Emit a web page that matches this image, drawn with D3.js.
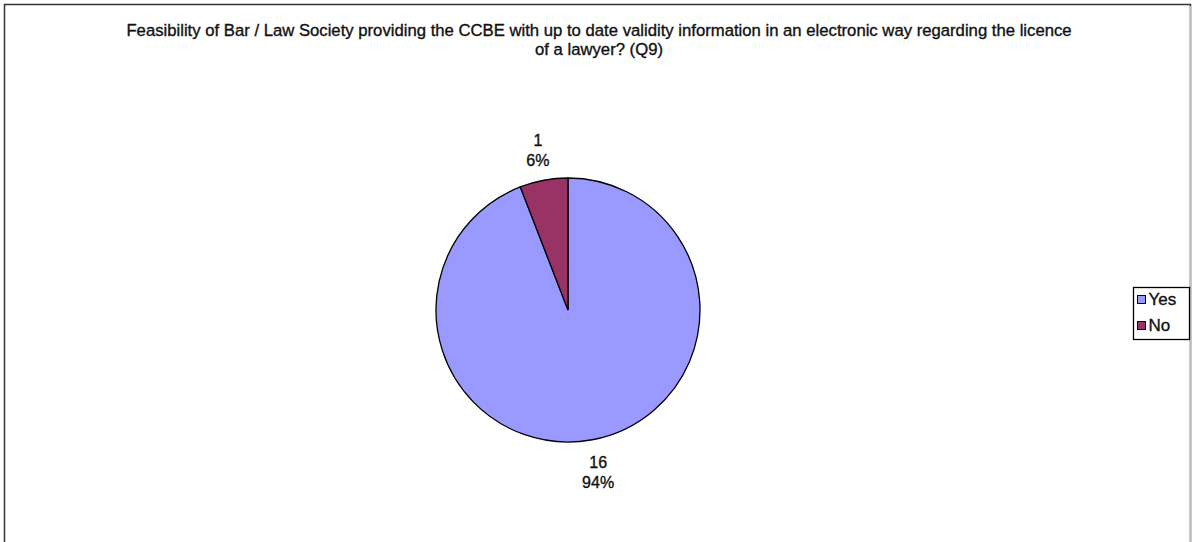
<!DOCTYPE html>
<html>
<head>
<meta charset="utf-8">
<script src="https://cdn.jsdelivr.net/npm/d3@7"></script>
<style>
  body { margin: 0; background: #fff; }
  svg text { font-family: "Liberation Sans", Arial, sans-serif; fill: #111; stroke: #111; stroke-width: 0.35; }
</style>
</head>
<body>
<div id="chart"></div>
<script>
const categories = ['Yes', 'No']
const counts = [16, 1]
const percents = ['94%', '6%']
const colors = ['#9999FF', '#993366']
const titleLines = [
  'Feasibility of Bar / Law Society providing the CCBE with up to date validity information in an electronic way regarding the licence',
  'of a lawyer? (Q9)'
]

const width = 1192
const height = 542
const svg = d3.select('#chart').append('svg')
  .attr('width', width)
  .attr('height', height)

// outer frame
svg.append('path')
  .attr('d', `M4.5,${height} V4.5 H1190.5 V${height}`)
  .attr('fill', 'none')
  .attr('stroke', '#333')
  .attr('stroke-width', 1.5)
svg.append('line')
  .attr('x1', 1190.5).attr('y1', 6).attr('x2', 1190.5).attr('y2', height)
  .attr('stroke', '#bbb')

svg.selectAll('.title')
  .data(titleLines)
  .enter().append('text')
  .attr('class', 'title')
  .attr('x', 599)
  .attr('y', function (d, i) { return 36 + i * 19 })
  .attr('text-anchor', 'middle')
  .attr('font-size', 16.7)
  .text(function (d) { return d })

const cx = 568
const cy = 310
const r = 132

const pie = d3.pie().sort(null).value(function (d) { return d.value })
const data = categories.map(function (c, i) {
  return { name: c, value: counts[i], pct: percents[i], color: colors[i] }
})
const arcs = pie(data)
const arc = d3.arc().innerRadius(0).outerRadius(r)
const labelArc = d3.arc().innerRadius(164).outerRadius(164)

const g = svg.append('g').attr('transform', `translate(${cx},${cy})`)

g.selectAll('path')
  .data(arcs)
  .enter().append('path')
  .attr('d', arc)
  .attr('fill', function (d) { return d.data.color })
  .attr('stroke', '#000')
  .attr('stroke-width', 1.3)

const lbl = g.selectAll('.lbl')
  .data(arcs)
  .enter().append('text')
  .attr('class', 'lbl')
  .attr('text-anchor', 'middle')
  .attr('font-size', 16)
  .attr('transform', function (d) {
    const c = labelArc.centroid(d)
    return `translate(${c[0]},${c[1]})`
  })

lbl.append('tspan')
  .attr('x', 0)
  .attr('y', -3)
  .text(function (d) { return d.data.value })
lbl.append('tspan')
  .attr('x', 0)
  .attr('y', 17)
  .text(function (d) { return d.data.pct })

// legend
const legend = svg.append('g').attr('transform', 'translate(1133.5,287.5)')
legend.append('rect')
  .attr('width', 56)
  .attr('height', 52)
  .attr('fill', '#fff')
  .attr('stroke', '#000')
  .attr('stroke-width', 1.3)

const item = legend.selectAll('.item')
  .data(data)
  .enter().append('g')
  .attr('class', 'item')
  .attr('transform', function (d, i) { return `translate(4,${8 + i * 26})` })

item.append('rect')
  .attr('width', 8)
  .attr('height', 8)
  .attr('fill', function (d) { return d.color })
  .attr('stroke', '#000')
item.append('text')
  .attr('x', 11)
  .attr('y', 9.5)
  .attr('font-size', 17)
  .text(function (d) { return d.name })
</script>
</body>
</html>
